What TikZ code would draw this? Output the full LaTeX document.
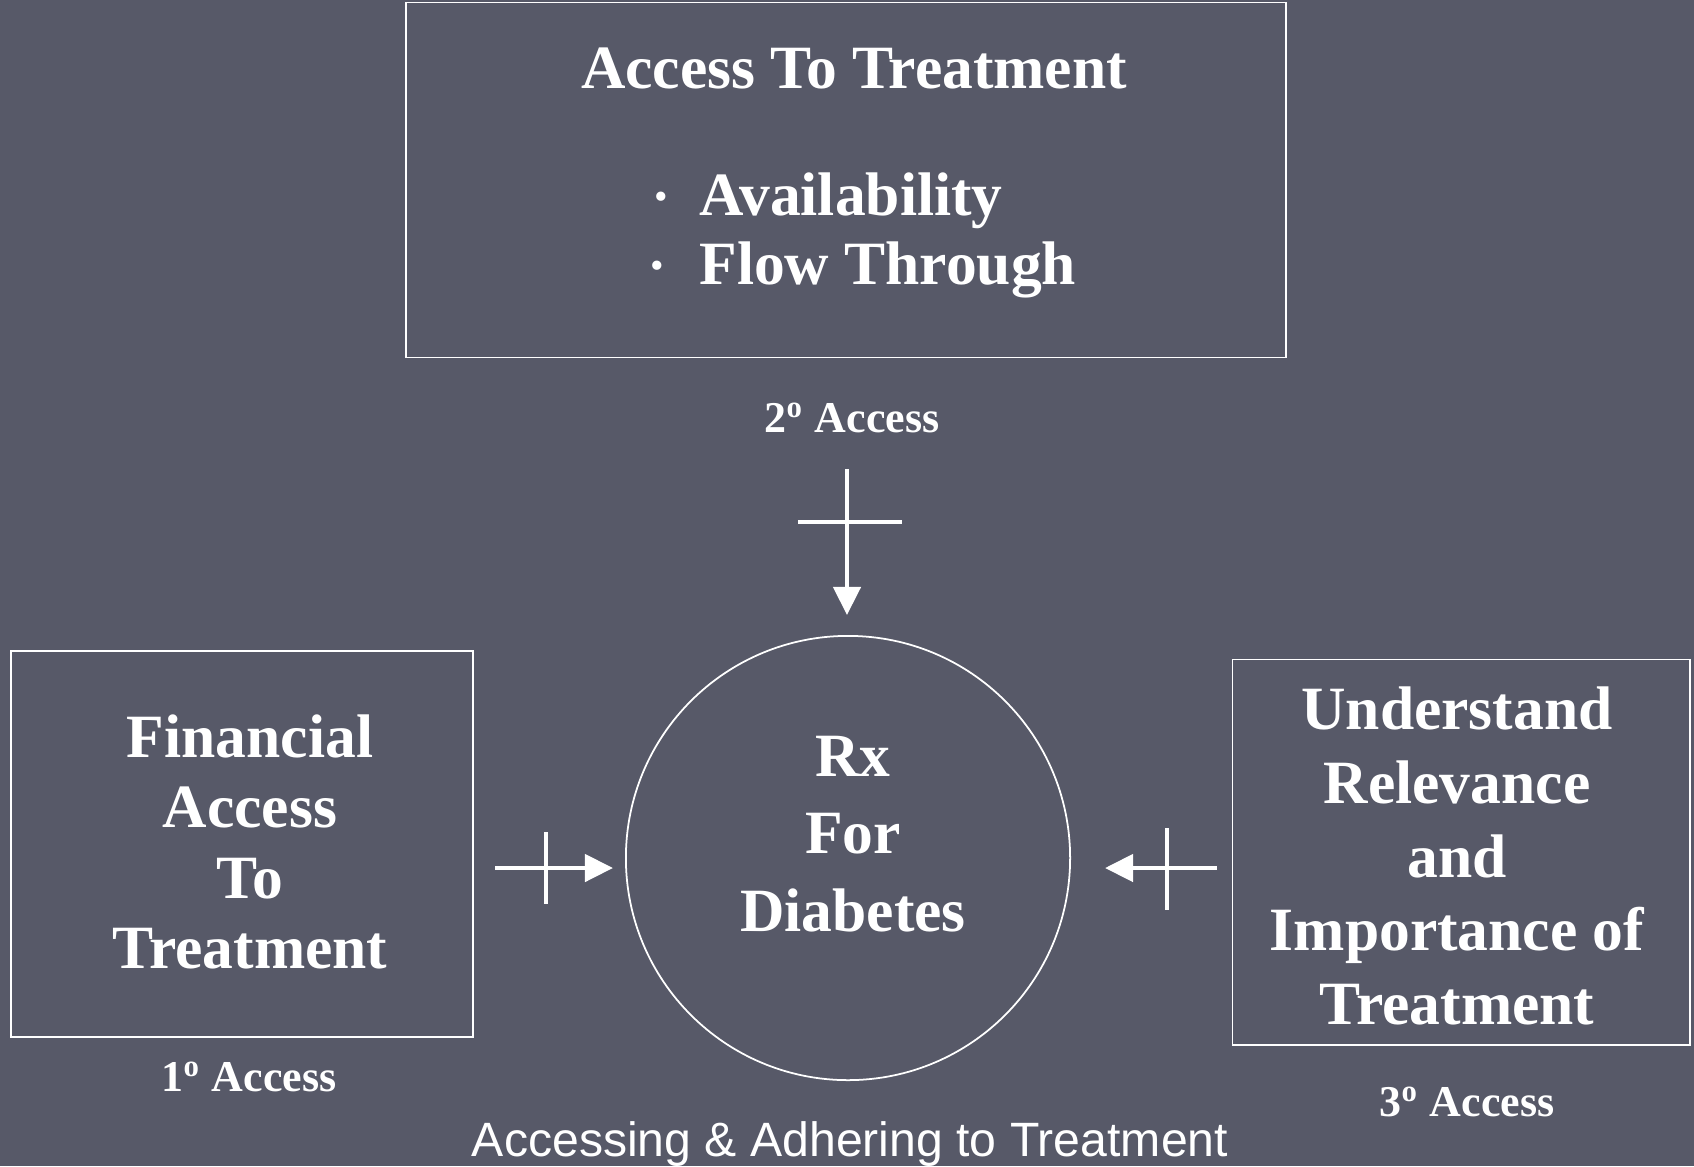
\documentclass[tikz,border=0pt]{standalone}
\usepackage{fontspec}
\setmainfont{Liberation Serif}
\setsansfont{Liberation Sans}
\usetikzlibrary{arrows.meta}
\definecolor{slate}{RGB}{87,89,104}
\tikzset{
  frame/.style={draw=white, line width=0.5pt},
  txt/.style={text=white, align=center, font=\bfseries\fontsize{17.5}{20.5}\selectfont},
  lbl/.style={text=white, font=\bfseries\fontsize{12.5}{15}\selectfont},
  dot/.style={text=white, font=\fontsize{11}{11}\selectfont},
  arr/.style={white, line width=0.045cm, -{Triangle[length=0.28cm,width=0.27cm]}},
  bar/.style={white, line width=0.045cm}
}
\begin{document}
\begin{tikzpicture}[x=0.01cm, y=-0.01cm]
\fill [slate] (0,0) rectangle (1694,1166);
\useasboundingbox (0,0) rectangle (1694,1166);

% top box
\node [frame, minimum width=8.8cm, minimum height=3.55cm] (access) at (846,180) {};
\node [txt] (title) at (854,68) {Access To Treatment};
\node [txt, anchor=west] (avail) at (687,201) {Availability};
\node [txt, anchor=west] (flow) at (687,270) {Flow Through};
\node [dot] (b1) at (661,201) {\textbullet};
\node [dot] (b2) at (657,270) {\textbullet};
\node [lbl] (second) at (852,418) {2\textsuperscript{o} Access};

% circle
\node [frame, circle, minimum size=4.44cm, inner sep=0pt] (rx) at (848,858) {};
\node [txt, font=\bfseries\fontsize{17.5}{22}\selectfont] (rxtext) at (853,834) {Rx\\For\\Diabetes};

% side boxes
\node [frame, minimum width=4.62cm, minimum height=3.86cm] (fin) at (242,844) {};
\node [txt, font=\bfseries\fontsize{17.5}{20}\selectfont] (fintext) at (250,842) {Financial\\Access\\To\\Treatment};
\node [lbl] (first) at (249,1077) {1\textsuperscript{o} Access};

\node [frame, minimum width=4.57cm, minimum height=3.85cm] (und) at (1461,852) {};
\node [txt, font=\bfseries\fontsize{17.5}{21}\selectfont] (undtext) at (1457,856) {Understand\\Relevance\\and\\Importance of\\Treatment};
\node [lbl] (third) at (1467,1102) {3\textsuperscript{o} Access};

% arrows
\coordinate (ttail) at (847,469);
\coordinate (tbarl) at (798,522);
\coordinate (tbarr) at (902,522);
\draw [arr, shorten >=0.2cm] (ttail) -- (ttail |- rx.north);
\draw [bar] (tbarl) -- (tbarr);

\coordinate (ltail) at (495,868);
\coordinate (lbart) at (546,832);
\coordinate (lbarb) at (546,904);
\draw [arr, shorten >=0.12cm] (ltail) -- (ltail -| rx.west);
\draw [bar] (lbart) -- (lbarb);

\coordinate (rtail) at (1217,868);
\coordinate (rbart) at (1167,828);
\coordinate (rbarb) at (1167,910);
\draw [arr, shorten >=0.34cm] (rtail) -- (rtail -| rx.east);
\draw [bar] (rbart) -- (rbarb);

\node [text=white, font=\sffamily\fontsize{13.7}{15}\selectfont] (caption) at (850,1144) {Accessing \& Adhering to Treatment};
\end{tikzpicture}
\end{document}
